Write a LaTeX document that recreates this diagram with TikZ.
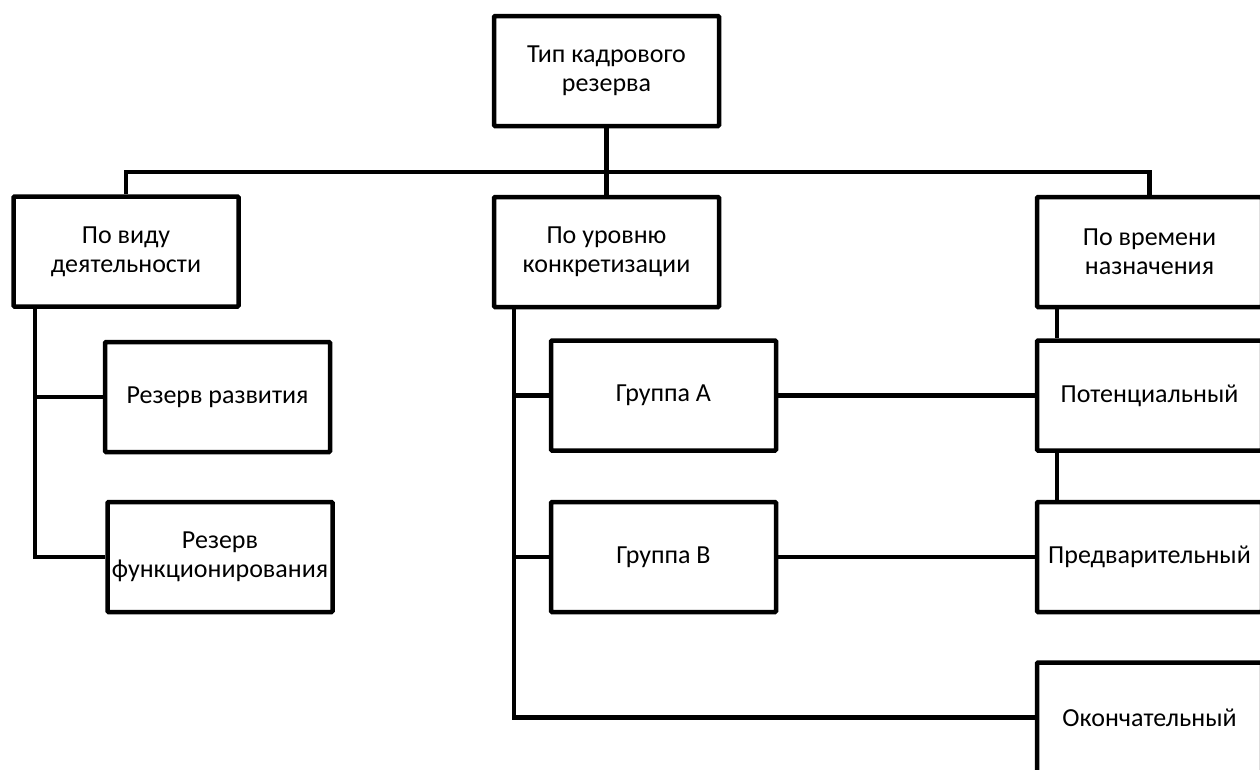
\documentclass[tikz,border=0pt]{standalone}
\usepackage{fontspec}
\setmainfont{Carlito}
\begin{document}
\begin{tikzpicture}[x=1pt,y=-1pt,
  box/.style={draw=black, line width=4.5pt, rounded corners=1pt, minimum width=225pt, minimum height=110pt, inner sep=0pt, align=center, font=\fontsize{26}{29}\selectfont},
  link/.style={draw=black, line width=4.5pt, line join=miter}]
\useasboundingbox (0,0) rectangle (1260,769);
\clip (0,0) rectangle (1260,769);
\fill[white] (0,0) rectangle (1260,769);
\node[box] (top) at (606.5,71) {Тип кадрового\\резерва};
\node[box] (left1) at (126,251.5) {По виду\\деятельности};
\node[box] (mid1) at (606.5,252) {По уровню\\конкретизации};
\node[box] (right1) at (1149.5,252) {По времени\\назначения};
\node[box] (rr) at (217.5,397) {Резерв развития};
\node[box] (rf) at (220,557) {Резерв\\функционирования};
\node[box] (ga) at (663.5,395.5) {Группа А};
\node[box] (gb) at (663.5,557) {Группа В};
\node[box] (pot) at (1149.5,395.5) {Потенциальный};
\node[box] (pred) at (1149.5,557) {Предварительный};
\node[box] (ok) at (1149.5,717.5) {Окончательный};
\coordinate (bus) at (0,172);
\coordinate (lsp) at (35,0);
\coordinate (msp) at (514,0);
\coordinate (rsp) at (1057,0);
\draw[link] (top.south) -- (top.south |- bus);
\draw[link] (left1.north) -- (left1.north |- bus) -- (right1.north |- bus) -- (right1.north);
\draw[link] (mid1.north) -- (mid1.north |- bus);
\draw[link] (left1.south -| lsp) |- (rf.west);
\draw[link] (lsp |- rr.west) -- (rr.west);
\draw[link] (mid1.south -| msp) |- (ok.west);
\draw[link] (msp |- ga.west) -- (ga.west);
\draw[link] (msp |- gb.west) -- (gb.west);
\draw[link] (ga.east) -- (pot.west);
\draw[link] (gb.east) -- (pred.west);
\draw[link] (right1.south -| rsp) -- (pot.north -| rsp);
\draw[link] (pot.south -| rsp) -- (pred.north -| rsp);
\end{tikzpicture}
\end{document}
